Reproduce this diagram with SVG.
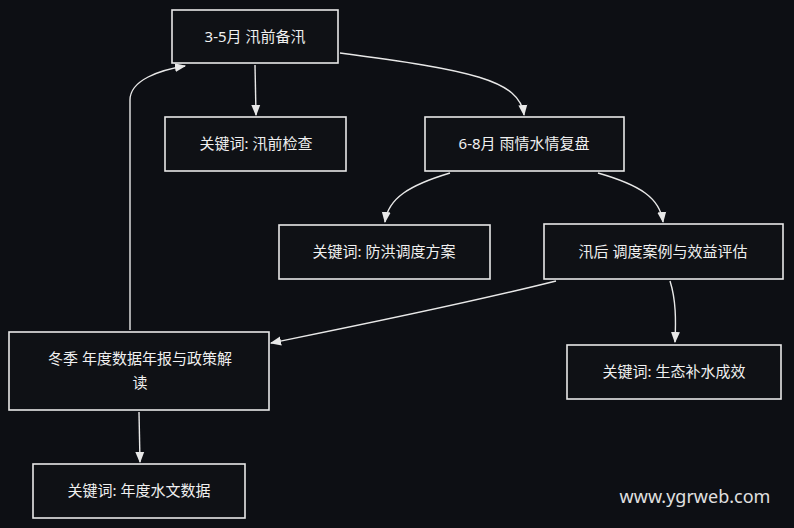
<svg xmlns="http://www.w3.org/2000/svg" width="794" height="528" viewBox="0 0 794 528">
<style>
.n rect{fill:#0f1115;stroke:#e8e8e8;stroke-width:1.6}
.n text{fill:#f0f0f0;font-family:"Noto Sans","Noto Sans CJK SC",sans-serif;font-size:15px;text-anchor:middle}
.c path{fill:none;stroke:#e8e8e8;stroke-width:1.4;marker-end:url(#a)}
</style>
<defs><marker id="a" viewBox="0 0 10 10" refX="9" refY="5" markerWidth="8" markerHeight="8" orient="auto"><path d="M0,1 L10,5 L0,9 Z" fill="#e8e8e8"/></marker></defs>
<rect width="794" height="528" fill="#0d0f14"/>
<g id="connectors" class="c">
<path d="M255,65 L256,115"/>
<path d="M340,53 C470,70 520,80 524,115"/>
<path d="M450,173 C410,185 388,198 385,222"/>
<path d="M598,173 C640,185 660,198 663,222"/>
<path d="M556,281 C460,305 360,325 271,343"/>
<path d="M670,281 C676,300 676,320 675,342"/>
<path d="M130,330 L130,100 C130,80 160,70 185,66"/>
<path d="M139,412 L140,462"/>
</g>
<g id="n1" class="n"><rect x="172" y="10" width="166" height="53"/><text x="255" y="42">3-5月 汛前备汛</text></g>
<g id="n2" class="n"><rect x="165" y="117" width="181" height="54"/><text x="256" y="149">关键词: 汛前检查</text></g>
<g id="n3" class="n"><rect x="425" y="117" width="199" height="54"/><text x="524" y="149">6-8月 雨情水情复盘</text></g>
<g id="n4" class="n"><rect x="279" y="225" width="211" height="54"/><text x="384" y="257">关键词: 防洪调度方案</text></g>
<g id="n5" class="n"><rect x="544" y="224" width="239" height="55"/><text x="663" y="257">汛后 调度案例与效益评估</text></g>
<g id="n6" class="n"><rect x="9" y="332" width="260" height="78"/><text x="140" y="364">冬季 年度数据年报与政策解</text><text x="140" y="388">读</text></g>
<g id="n7" class="n"><rect x="567" y="345" width="214" height="54"/><text x="674" y="377">关键词: 生态补水成效</text></g>
<g id="n8" class="n"><rect x="33" y="464" width="212" height="54"/><text x="139" y="496">关键词: 年度水文数据</text></g>
<text x="695" y="503" fill="#e0e0e0" font-family="Noto Sans, sans-serif" font-size="18" text-anchor="middle">www.ygrweb.com</text>
</svg>
